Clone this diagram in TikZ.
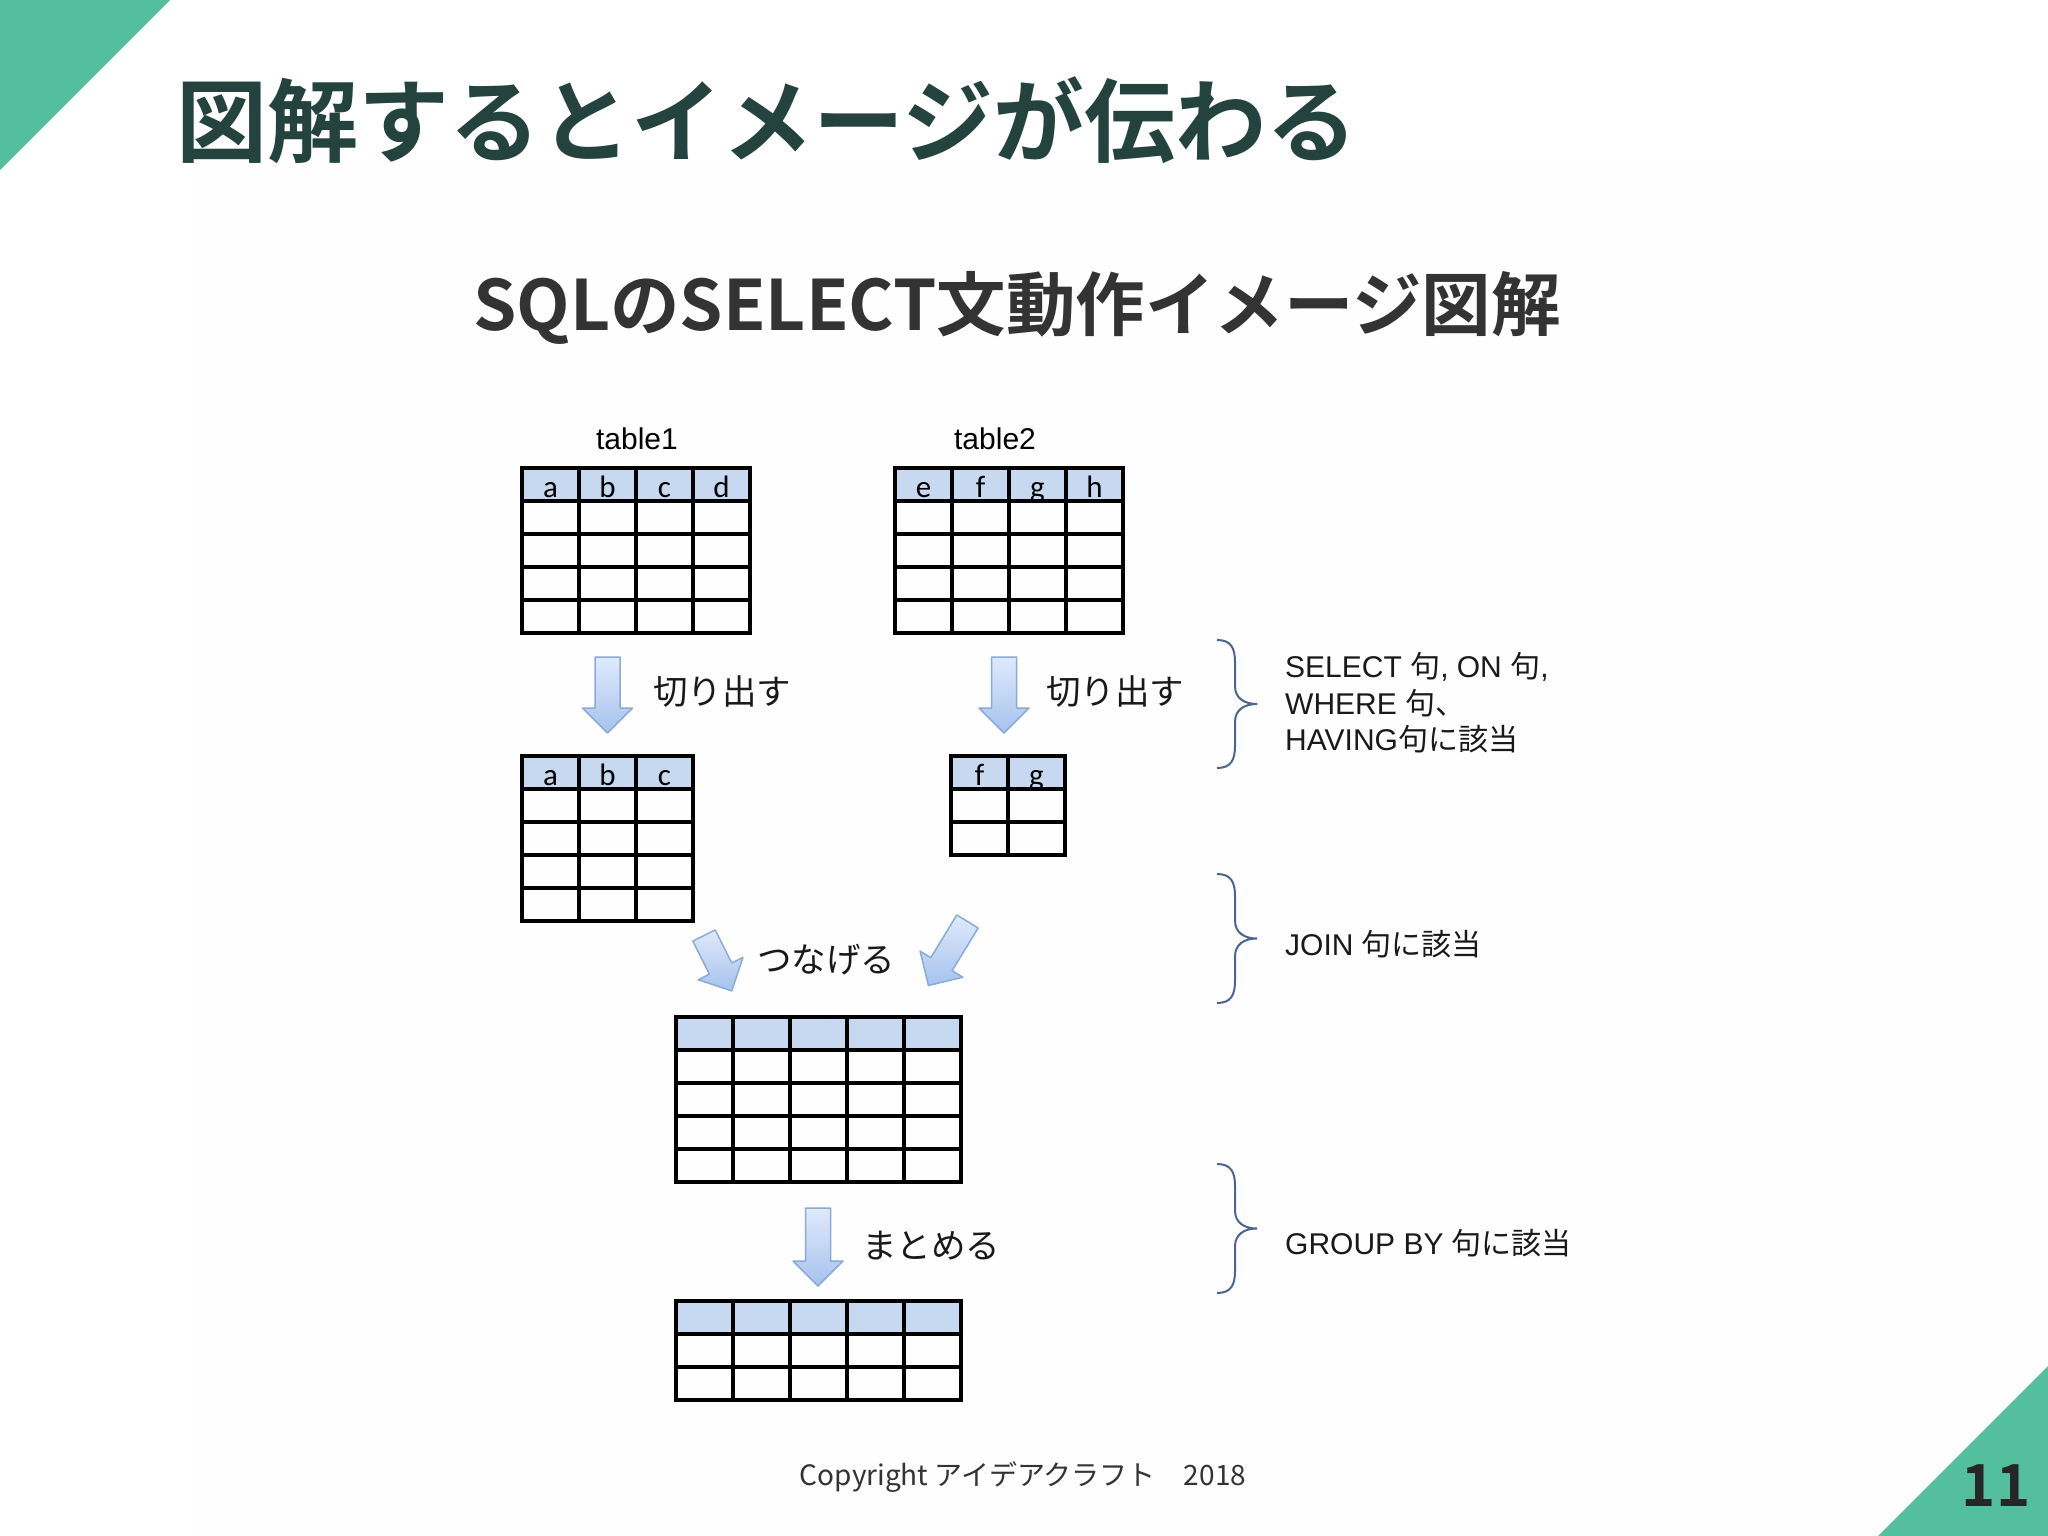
\documentclass[tikz,border=0pt]{standalone}
\usepackage{fontspec}
\setmainfont{Liberation Sans}
\newfontfamily\jp{Noto Sans CJK JP}[BoldFont={Noto Sans CJK JP Bold}]
\newfontfamily\calb{Carlito}
\newcommand\jt[1]{{\jp #1}}
\definecolor{slidegreen}{HTML}{53BF9D}
\definecolor{titlegreen}{HTML}{24433E}
\definecolor{hdrblue}{HTML}{C6D9F1}
\definecolor{arrtop}{HTML}{DFEAFB}
\definecolor{arrbot}{HTML}{A6C2EE}
\definecolor{arrline}{HTML}{8AAAD8}
\definecolor{bracecol}{HTML}{4A6590}
\tikzset{
  hdr/.style={fill=hdrblue},
  tline/.style={line width=3.8pt,black},
  tbox/.style={draw,line width=3.8pt,inner sep=0pt,outer sep=0pt},
  hlab/.style={anchor=base,inner sep=0pt,font=\calb\fontsize{31}{33}\selectfont},
  lbl/.style={inner sep=0pt,font=\fontsize{30}{34}\selectfont},
  jplab/.style={anchor=west,inner sep=0pt,text=black!90,font=\jp\fontsize{34.5}{38}\selectfont},
  note/.style={anchor=west,align=left,inner sep=0pt,text=black!90,font=\fontsize{30}{36.5}\selectfont},
  barrow/.style={top color=arrtop,bottom color=arrbot,draw=arrline,line width=1.5pt,line join=round},
  brc/.style={draw=bracecol,line width=2pt}
}
% table: name, x, y, columns, rows
\newcommand\sqltab[5]{%
  \fill[hdr] (#2,#3) rectangle ++(#4*57,33);
  \foreach \c in {1,...,#4} \draw[tline] (#2+\c*57,#3) -- ++(0,#5*33);
  \foreach \r in {1,...,#5} \draw[tline] (#2,#3+\r*33) -- ++(#4*57,0);
  \node[tbox,minimum width=#4*57,minimum height=#5*33,anchor=north west] (#1) at (#2,#3) {};
}
% block arrow: name, tail x, tail y, angle, length
\newcommand\bigarrow[5]{%
  \begin{scope}[shift={(#2,#3)},rotate=#4]
    \draw[barrow] (-12.5,0) -- (12.5,0) -- (12.5,#5-25) -- (25,#5-25) -- (0,#5)
      -- (-25,#5-25) -- (-12.5,#5-25) -- cycle;
    \coordinate (#1) at (0,#5);
  \end{scope}}
% brace: name, top, bottom
\newcommand\curly[3]{%
  \pgfmathsetmacro\bmid{(#2+#3)/2}
  \draw[brc] (1217,#2) .. controls (1231,#2) and (1235,#2+8) .. (1235,#2+22)
    -- (1235,\bmid-18) .. controls (1235,\bmid-6) and (1244,\bmid) .. (1257,\bmid)
    .. controls (1244,\bmid) and (1235,\bmid+6) .. (1235,\bmid+18)
    -- (1235,#3-22) .. controls (1235,#3-8) and (1231,#3) .. (1217,#3);
  \coordinate (#1) at (1257,\bmid);
}
\begin{document}
\begin{tikzpicture}[x=1pt,y=-1pt]
  \useasboundingbox (0,0) rectangle (2048,1536);
  \fill[white] (0,0) rectangle (2048,1536);
  \fill[gray!1] (193,160) rectangle (2048,1536);
  \fill[slidegreen] (0,0) -- (170,0) -- (0,170) -- cycle;
  \fill[slidegreen] (1878,1536) -- (2048,1536) -- (2048,1366) -- cycle;

  \node[anchor=west,inner sep=0pt,text=titlegreen,font=\jp\bfseries\fontsize{91}{96}\selectfont] (ttl) at (176,120) {図解するとイメージが伝わる};
  \node[inner sep=0pt,text=black!80,font=\jp\bfseries\fontsize{69.5}{72}\selectfont] (sub) at (1017,308) {SQLのSELECT文動作イメージ図解};

  \node[lbl] (lt1) at (637,439) {table1};
  \node[lbl] (lt2) at (995,439) {table2};

  \sqltab{t1}{522}{468}{4}{5}
  \foreach \l [count=\k] in {a,b,c,d} \node[hlab] (t1\l) at (522+\k*57-28.5,497) {\l};
  \sqltab{t2}{895}{468}{4}{5}
  \foreach \l [count=\k] in {e,f,g,h} \node[hlab] (t2\l) at (895+\k*57-28.5,497) {\l};

  \bigarrow{a1}{607.5}{657}{0}{76}
  \bigarrow{a2}{1004}{657}{0}{76}
  \node[jplab] (cut1) at (653,692) {切り出す};
  \node[jplab] (cut2) at (1046,692) {切り出す};

  \sqltab{t3}{522}{756}{3}{5}
  \foreach \l [count=\k] in {a,b,c} \node[hlab] (t3\l) at (522+\k*57-28.5,785) {\l};
  \sqltab{t4}{951}{756}{2}{3}
  \foreach \l [count=\k] in {f,g} \node[hlab] (t4\l) at (951+\k*57-28.5,785) {\l};

  \bigarrow{a3}{704}{935.5}{26.6}{62}
  \bigarrow{a4}{967.5}{921.5}{-31.4}{75}
  \node[jplab] (join) at (757,960) {つなげる};

  \sqltab{t5}{676}{1017}{5}{5}

  \bigarrow{a5}{818}{1208}{0}{78}
  \node[jplab] (grp) at (862,1246) {まとめる};

  \sqltab{t6}{676}{1301}{5}{3}

  \curly{b1}{640}{768}
  \curly{b2}{874}{1003}
  \curly{b3}{1164}{1293}
  \node[note] (n1) at (1285,703) {SELECT \jt{句}, ON \jt{句},\\WHERE \jt{句、}\\HAVING\jt{句に該当}};
  \node[note] (n2) at (1285,944) {JOIN \jt{句に該当}};
  \node[note] (n3) at (1285,1243) {GROUP BY \jt{句に該当}};

  \node[inner sep=0pt,text=black!80,font=\jp\fontsize{28}{30}\selectfont] (copy) at (1023,1477) {Copyright アイデアクラフト　2018};
  \node[inner sep=0pt,text=black!85,font=\jp\bfseries\fontsize{58}{60}\selectfont] (page) at (1996,1486) {11};
\end{tikzpicture}
\end{document}
